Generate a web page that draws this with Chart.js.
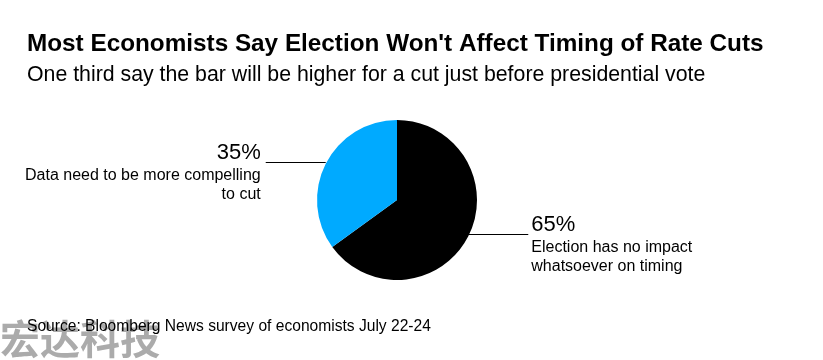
<!DOCTYPE html>
<html>
<head>
<meta charset="utf-8">
<script src="https://cdn.jsdelivr.net/npm/chart.js@4.4.1/dist/chart.umd.min.js"></script>
<style>
html,body{margin:0;padding:0;background:#fff;}
#wrap{position:relative;width:823px;height:360px;}
</style>
</head>
<body>
<div id="wrap"><canvas id="c" width="823" height="360"></canvas></div>
<script>
const titleText = "Most Economists Say Election Won't Affect Timing of Rate Cuts";
const subtitleText = "One third say the bar will be higher for a cut just before presidential vote";
const sourceText = "Source: Bloomberg News survey of economists July 22-24";
const watermarkText = "宏达科技";
const categories = ["Election has no impact whatsoever on timing", "Data need to be more compelling to cut"];
const labelLines = [["Election has no impact", "whatsoever on timing"], ["Data need to be more compelling", "to cut"]];
const shares = [65, 35];
const colors = ["#000000", "#00aaff"];

const FONT = "'Liberation Sans', Arial, Helvetica, sans-serif";

const textPlugin = {
  id: 'textPlugin',
  afterDraw(chart) {
    const ctx = chart.ctx;
    ctx.save();
    ctx.textBaseline = 'alphabetic';
    ctx.textAlign = 'left';

    // watermark (under the source text)
    ctx.font = "bold 40px 'Noto Sans CJK SC', sans-serif";
    ctx.fillStyle = 'rgba(150,150,150,0.8)';
    ctx.fillText(watermarkText, 0, 354);

    ctx.fillStyle = '#000';
    ctx.font = "bold 24.3px " + FONT;
    ctx.fillText(titleText, 27, 51);
    ctx.font = "21.3px " + FONT;
    ctx.fillText(subtitleText, 27, 81);
    ctx.font = "15.6px " + FONT;
    ctx.fillText(sourceText, 27, 331);

    // slice labels with leader lines
    const meta = chart.getDatasetMeta(0);
    meta.data.forEach((arc, i) => {
      const p = arc.getProps(['x', 'y', 'startAngle', 'endAngle', 'outerRadius'], true);
      const mid = (p.startAngle + p.endAngle) / 2;
      const ex = p.x + Math.cos(mid) * p.outerRadius;
      const ey = Math.round(p.y + Math.sin(mid) * p.outerRadius) - 2;
      const right = Math.cos(mid) >= 0;
      const len = 60;
      const x2 = right ? ex + len : ex - len;
      ctx.save();
      ctx.beginPath();
      ctx.rect(26, 0, 823 - 26, 360);
      ctx.clip();
      ctx.strokeStyle = '#000';
      ctx.lineWidth = 1;
      ctx.beginPath();
      ctx.moveTo(ex, ey + 0.5);
      ctx.lineTo(x2, ey + 0.5);
      ctx.stroke();
      ctx.fillStyle = '#000';
      ctx.textAlign = right ? 'left' : 'right';
      const tx = right ? x2 + 3 : x2 - 5;
      ctx.font = "22px " + FONT;
      ctx.fillText(shares[i] + '%', tx, ey - 3);
      ctx.font = "16px " + FONT;
      labelLines[i].forEach((ln, k) => {
        ctx.fillText(ln, tx, ey + 18 + k * 19);
      });
      ctx.restore();
    });
    ctx.restore();
  }
};

new Chart(document.getElementById('c'), {
  type: 'pie',
  data: {
    labels: categories,
    datasets: [{
      data: shares,
      backgroundColor: colors,
      borderWidth: 0
    }]
  },
  options: {
    responsive: false,
    animation: false,
    layout: { padding: { top: 120, bottom: 80, left: 0, right: 29 } },
    plugins: {
      legend: { display: false },
      tooltip: { enabled: false },
      title: { display: false }
    }
  },
  plugins: [textPlugin]
});
</script>
</body>
</html>
